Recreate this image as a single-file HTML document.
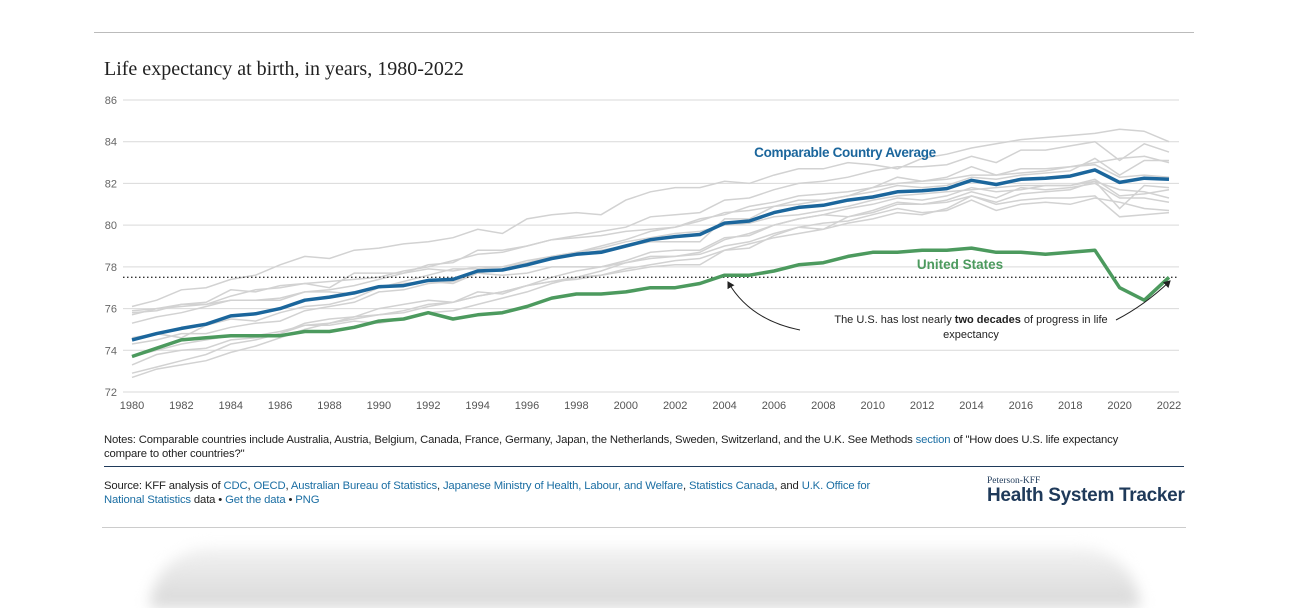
<!DOCTYPE html>
<html><head><meta charset="utf-8"><style>
body{margin:0;width:1289px;height:582px;background:#fff;overflow:hidden;position:relative;font-family:"Liberation Sans",sans-serif}
.a{color:#1b6ea3;text-decoration:none}
</style></head><body>
<div style="position:absolute;left:94px;top:32px;width:1100px;height:1px;background:#bbb"></div>
<div style="position:absolute;left:104px;top:58px;font-family:'Liberation Serif',serif;font-size:20px;color:#222">Life expectancy at birth, in years, 1980-2022</div>
<svg id="chart" width="1289" height="420" style="position:absolute;left:0;top:0"></svg>
<div style="position:absolute;left:104px;top:433px;width:1090px;white-space:nowrap;font-size:11.3px;letter-spacing:-0.15px;line-height:14px;color:#222">Notes: Comparable countries include Australia, Austria, Belgium, Canada, France, Germany, Japan, the Netherlands, Sweden, Switzerland, and the U.K. See Methods <a class="a">section</a> of "How does U.S. life expectancy<br>compare to other countries?"</div>
<div style="position:absolute;left:104px;top:466px;width:1080px;height:1px;background:#1f3a5a"></div>
<div style="position:absolute;left:104px;top:479px;width:850px;white-space:nowrap;font-size:11.3px;letter-spacing:-0.15px;line-height:14px;color:#222">Source: KFF analysis of <a class="a">CDC</a>, <a class="a">OECD</a>, <a class="a">Australian Bureau of Statistics</a>, <a class="a">Japanese Ministry of Health, Labour, and Welfare</a>, <a class="a">Statistics Canada</a>, and <a class="a">U.K. Office for<br>National Statistics</a> data • <a class="a">Get the data</a> • <a class="a">PNG</a></div>
<div style="position:absolute;left:987px;top:476px;color:#1f3a5a">
<div style="font-family:'Liberation Serif',serif;font-size:9.5px">Peterson-KFF</div>
<div style="font-size:19px;font-weight:bold;letter-spacing:-0.3px;margin-top:-1px">Health System Tracker</div></div>
<div style="position:absolute;left:102px;top:527px;width:1084px;height:1px;background:#ccc"></div>
<div style="position:absolute;left:150px;top:548px;width:990px;height:60px;border-radius:60px 60px 0 0;background:linear-gradient(#f2f2f2,#d8d8d8);filter:blur(7px)"></div>
<script>
const years=[];for(let y=1980;y<=2022;y++)years.push(y);
const yTicks=[72,74,76,78,80,82,84,86];
const xTicks=[1980,1982,1984,1986,1988,1990,1992,1994,1996,1998,2000,2002,2004,2006,2008,2010,2012,2014,2016,2018,2020,2022];
const avg=[74.5,74.8,75.05,75.25,75.65,75.75,76.0,76.4,76.55,76.75,77.05,77.1,77.35,77.4,77.8,77.85,78.1,78.4,78.6,78.7,79.0,79.3,79.45,79.55,80.1,80.2,80.6,80.85,80.95,81.2,81.35,81.6,81.65,81.75,82.15,81.95,82.2,82.25,82.35,82.65,82.05,82.25,82.2];
const us=[73.7,74.1,74.5,74.6,74.7,74.7,74.7,74.9,74.9,75.1,75.4,75.5,75.8,75.5,75.7,75.8,76.1,76.5,76.7,76.7,76.8,77.0,77.0,77.2,77.6,77.6,77.8,78.1,78.2,78.5,78.7,78.7,78.8,78.8,78.9,78.7,78.7,78.6,78.7,78.8,77.0,76.4,77.5];
const japan=[76.1,76.4,76.9,77.0,77.4,77.6,78.1,78.5,78.4,78.8,78.9,79.1,79.2,79.4,79.8,79.6,80.3,80.5,80.6,80.5,81.2,81.6,81.8,81.8,82.1,82.0,82.4,82.7,82.7,83.0,82.9,82.7,83.2,83.4,83.7,83.9,84.1,84.2,84.3,84.4,84.6,84.5,84.0];
const switzerland=[75.7,76.0,76.2,76.2,76.6,76.9,77.0,77.2,77.3,77.4,77.5,77.8,78.0,78.3,78.6,78.7,79.0,79.3,79.5,79.7,79.9,80.4,80.5,80.6,81.2,81.3,81.7,82.0,82.1,82.3,82.6,82.8,82.8,82.9,83.3,83.0,83.6,83.6,83.8,84.0,83.1,83.9,83.5];
const sweden=[75.8,75.9,76.2,76.3,76.9,76.8,77.1,77.2,77.0,77.7,77.7,77.7,78.1,78.2,78.8,78.8,79.0,79.3,79.4,79.5,79.7,79.8,79.9,80.2,80.6,80.7,80.9,81.0,81.2,81.4,81.6,81.9,81.8,81.9,82.3,82.2,82.4,82.5,82.6,83.2,82.4,83.1,83.1];
const australia=[74.6,74.8,74.6,75.2,75.5,75.4,75.8,76.1,76.2,76.5,77.0,77.3,77.6,77.9,77.9,78.0,78.2,78.5,78.7,79.0,79.3,79.7,79.9,80.3,80.5,80.9,81.1,81.4,81.5,81.6,81.8,82.0,82.1,82.2,82.4,82.4,82.5,82.6,82.8,83.0,83.2,83.3,83.0];
const france=[74.3,74.5,74.8,74.8,75.1,75.3,75.4,75.9,76.1,76.3,76.8,76.9,77.2,77.3,77.7,77.9,78.1,78.4,78.6,78.8,79.0,79.2,79.2,79.2,80.3,80.3,80.9,81.2,81.2,81.4,81.8,82.3,82.1,82.3,82.8,82.4,82.7,82.7,82.8,82.9,82.3,82.4,82.3];
const canada=[75.3,75.6,75.8,76.1,76.4,76.4,76.5,76.8,76.9,77.1,77.4,77.7,77.9,77.8,78.0,78.0,78.3,78.5,78.7,78.9,79.2,79.4,79.6,79.7,80.0,80.1,80.4,80.5,80.7,80.9,81.2,81.4,81.5,81.6,81.7,81.8,81.9,81.9,81.9,82.1,81.7,81.6,81.3];
const netherlands=[75.9,76.0,76.1,76.2,76.4,76.4,76.4,76.8,76.8,76.7,77.0,77.2,77.3,77.2,77.7,77.6,77.7,78.0,78.0,78.0,78.2,78.4,78.5,78.7,79.3,79.6,80.0,80.3,80.5,80.8,81.0,81.3,81.2,81.4,81.8,81.6,81.7,81.9,81.9,82.2,81.4,81.5,81.7];
const austria=[72.7,73.1,73.3,73.5,73.9,74.2,74.6,75.0,75.3,75.5,75.7,75.8,76.1,76.3,76.6,76.8,77.1,77.5,77.8,78.0,78.3,78.7,78.8,78.8,79.4,79.5,80.0,80.3,80.5,80.4,80.7,81.1,81.0,81.2,81.6,81.3,81.8,81.7,81.8,82.0,81.3,81.3,81.1];
const belgium=[73.3,73.8,74.0,74.1,74.5,74.6,74.8,75.3,75.5,75.6,76.0,76.2,76.4,76.3,76.6,76.8,77.1,77.3,77.5,77.6,77.8,78.0,78.1,78.1,78.8,78.9,79.5,79.9,79.8,80.1,80.3,80.6,80.5,80.8,81.4,81.1,81.5,81.6,81.7,82.1,80.8,81.9,81.8];
const germany=[72.9,73.2,73.5,73.8,74.3,74.5,74.8,75.2,75.2,75.4,75.3,75.5,75.8,75.9,76.2,76.5,76.8,77.2,77.5,77.8,78.2,78.5,78.5,78.6,79.0,79.2,79.6,79.9,80.1,80.2,80.5,80.8,80.6,80.7,81.2,80.7,81.0,81.1,81.0,81.3,81.1,80.8,80.7];
const uk=[73.7,74.0,74.3,74.5,74.7,74.7,74.9,75.2,75.3,75.6,75.7,75.9,76.2,76.3,76.8,76.7,77.1,77.3,77.4,77.6,77.9,78.1,78.3,78.4,78.8,79.1,79.4,79.6,79.8,80.4,80.6,81.0,81.0,81.1,81.4,81.0,81.2,81.3,81.3,81.4,80.4,80.5,80.6];
const refValue=77.5;

const svg=document.getElementById('chart');const NS='http://www.w3.org/2000/svg';
const X=y=>132+(y-1980)*(1169-132)/42;
const Y=v=>100+(86-v)*(392-100)/14;
function el(t,a,p){const e=document.createElementNS(NS,t);for(const k in a)e.setAttribute(k,a[k]);(p||svg).appendChild(e);return e;}
yTicks.forEach(v=>{
 const l=el('line',{x1:123,x2:1179,y1:Y(v),y2:Y(v),stroke:'#d9d9d9','stroke-width':1});
 
 
 const t=el('text',{x:117,y:Y(v)+4,'text-anchor':'end','font-size':11,fill:'#666'});t.textContent=v;
 
 
});
xTicks.forEach(v=>{
 const t=el('text',{x:X(v),y:409,'text-anchor':'middle','font-size':11,fill:'#555'});t.textContent=v;
 
 
});
const path=a=>a.map((v,i)=>(i?'L':'M')+X(years[i]).toFixed(1)+' '+Y(v).toFixed(1)).join(' ');
const greys=[['japan',japan],['switzerland',switzerland],['sweden',sweden],['australia',australia],['france',france],['canada',canada],['netherlands',netherlands],['austria',austria],['belgium',belgium],['germany',germany],['uk',uk]];
greys.forEach(([n,a])=>{
 const p=el('path',{d:path(a),fill:'none',stroke:'#d2d2d2','stroke-width':1.5});
 
 
});
const ref=el('line',{x1:123,x2:1178,y1:Y(refValue),y2:Y(refValue),stroke:'#333','stroke-width':1.4,'stroke-dasharray':'1.5 2.5'});


const pa=el('path',{d:path(avg),fill:'none',stroke:'#1b669c','stroke-width':3.5,'stroke-linejoin':'round'});


const pu=el('path',{d:path(us),fill:'none',stroke:'#4c9a5e','stroke-width':3.5,'stroke-linejoin':'round'});


const la=el('text',{x:845,y:157,'text-anchor':'middle','font-size':13.5,'font-weight':'bold',fill:'#1b669c','letter-spacing':-0.3});la.textContent='Comparable Country Average';


const lu=el('text',{x:960,y:269,'text-anchor':'middle','font-size':13.5,'font-weight':'bold',fill:'#4c9a5e'});lu.textContent='United States';


const defs=el('defs',{});const m=el('marker',{id:'ah',markerWidth:8,markerHeight:8,refX:6,refY:4,orient:'auto'},defs);el('path',{d:'M0 0 L7 4 L0 8 Z',fill:'#222'},m);
const a1=el('path',{d:'M800 330 Q750 320 728 282',fill:'none',stroke:'#222','stroke-width':1,'marker-end':'url(#ah)'});


const a2=el('path',{d:'M1116 320 Q1145 305 1170 281',fill:'none',stroke:'#222','stroke-width':1,'marker-end':'url(#ah)'});


const at=el('text',{x:971,y:323,'text-anchor':'middle','font-size':11,fill:'#222'});
at.innerHTML='The U.S. has lost nearly <tspan font-weight="bold">two decades</tspan> of progress in life';


const at2=el('text',{x:971,y:338,'text-anchor':'middle','font-size':11,fill:'#222'});at2.textContent='expectancy';


</script>
</body></html>
